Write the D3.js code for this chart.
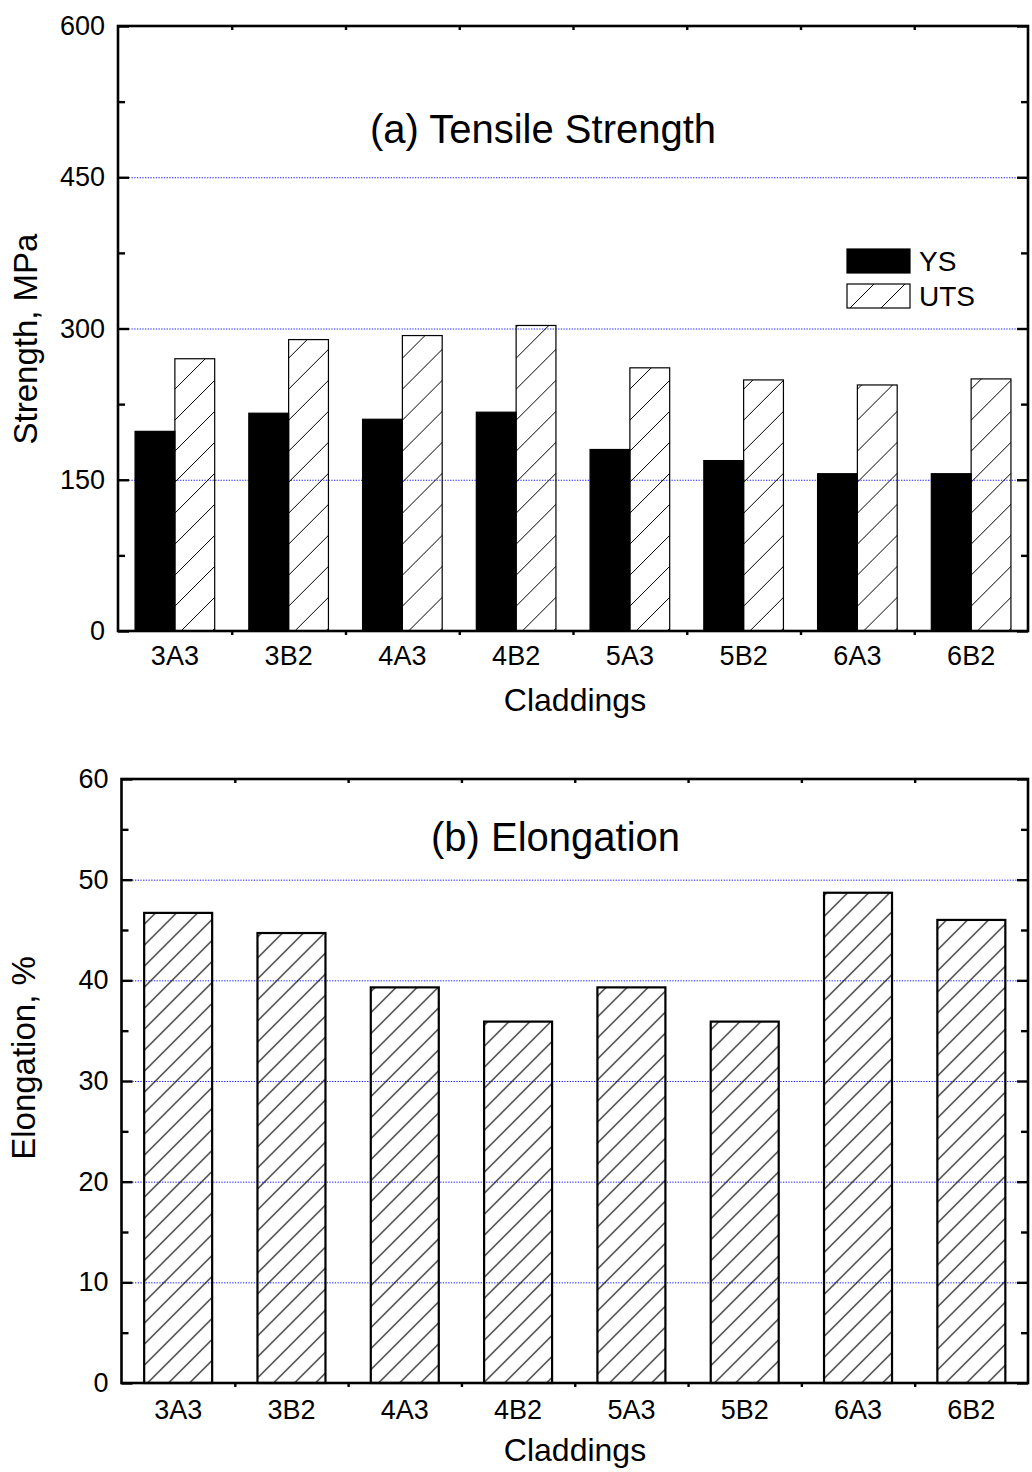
<!DOCTYPE html>
<html>
<head>
<meta charset="utf-8">
<script src="https://cdn.jsdelivr.net/npm/d3@7"></script>
<style>
  body { margin: 0; background: #fff; }
  svg { display: block; }
  text { font-family: Arial, "Liberation Sans", Helvetica, sans-serif; fill: #000; }
</style>
</head>
<body>
<div id="chart"></div>
<script>
// data
var claddings = ["3A3", "3B2", "4A3", "4B2", "5A3", "5B2", "6A3", "6B2"];
var seriesNames = ["YS", "UTS"];
var ysValues = [198, 216, 210, 217, 180, 169, 156, 156];
var utsValues = [270, 289, 293, 303, 261, 249, 244, 250];
var elongValues = [46.7, 44.7, 39.3, 35.9, 39.3, 35.9, 48.7, 46.0];
var strengthTicks = [0, 150, 300, 450, 600];
var strengthMinor = [75, 225, 375, 525];
var strengthGrid = [150, 300, 450];
var elongTicks = [0, 10, 20, 30, 40, 50, 60];
var elongMinor = [5, 15, 25, 35, 45, 55];
var elongGrid = [10, 20, 30, 40, 50];

var W = 1032, H = 1472;
var svg = d3.select("#chart").append("svg")
  .attr("width", W)
  .attr("height", H);

var defs = svg.append("defs");

// hatch patterns ("/" lines), a coarse one for panel a, finer for b
function hatch(id, step, width) {
  var p = defs.append("pattern")
    .attr("id", id)
    .attr("patternUnits", "userSpaceOnUse")
    .attr("width", step)
    .attr("height", step);
  p.append("path")
    .attr("d", "M0," + step + " L" + step + ",0 M" + (-step / 2) + "," + (step / 2) + " L" + (step / 2) + "," + (-step / 2) + " M" + (step / 2) + "," + (step * 1.5) + " L" + (step * 1.5) + "," + (step / 2))
    .attr("stroke", "#000")
    .attr("stroke-width", width);
}
hatch("hatchA", 31, 1);
hatch("hatchB", 21, 1.1);

function panel(opt) {
  var g = svg.append("g").attr("transform", "translate(" + opt.left + "," + opt.top + ")");
  var w = opt.width, h = opt.height;

  var y = d3.scaleLinear().domain(opt.yDomain).range([h, 0]);
  var x = d3.scaleBand().domain(claddings).range([0, w])
    .paddingInner(opt.padInner).paddingOuter(opt.padInner / 2);

  //dotted grid, behind everything
  g.append("g").selectAll("line")
    .data(opt.grid)
    .enter().append("line")
    .attr("x1", 0).attr("x2", w)
    .attr("y1", function(d) { return y(d) + 0.5; })
    .attr("y2", function(d) { return y(d) + 0.5; })
    .attr("stroke", "#1a1aff")
    .attr("stroke-width", 1)
    .attr("stroke-dasharray", "1.3,1.4");

  opt.drawBars(g, x, y);

  // axes (ticks point inward)
  var left = g.append("g")
    .call(d3.axisLeft(y).tickValues(opt.ticks).tickSize(-11).tickSizeOuter(0).tickPadding(13));
  left.append("g")
    .call(d3.axisLeft(y).tickValues(opt.minor).tickSize(-7).tickSizeOuter(0).tickFormat(""));
  var right = g.append("g").attr("transform", "translate(" + w + ",0)")
    .call(d3.axisRight(y).tickValues(opt.ticks).tickSize(-11).tickSizeOuter(0).tickFormat(""));
  right.append("g")
    .call(d3.axisRight(y).tickValues(opt.minor).tickSize(-7).tickSizeOuter(0).tickFormat(""));

  var bottom = g.append("g").attr("transform", "translate(0," + h + ")")
    .call(d3.axisBottom(x).tickSize(0).tickPadding(opt.xPad));

  // small ticks between categories
  var xb = d3.scaleLinear().domain([0, claddings.length]).range([0, w]);
  g.append("g").attr("transform", "translate(0," + h + ")")
    .call(d3.axisBottom(xb).tickValues(d3.range(1, claddings.length)).tickSize(4).tickFormat(""));
  g.append("g")
    .call(d3.axisTop(xb).tickValues(d3.range(1, claddings.length)).tickSize(-4).tickFormat(""));

  g.selectAll(".domain").remove();
  g.selectAll(".tick line").attr("stroke", "#000").attr("stroke-width", 2.4);
  g.selectAll(".tick text").style("font-size", "27px").style("font-family", "Arial, 'Liberation Sans', sans-serif");

  g.append("rect")
    .attr("x", 0).attr("y", 0)
    .attr("width", w).attr("height", h)
    .attr("fill", "none")
    .attr("stroke", "#000")
    .attr("stroke-width", 2.6);

  // labels
  g.append("text")
    .attr("x", opt.titleX).attr("y", opt.titleY)
    .attr("text-anchor", "middle")
    .style("font-size", "40px")
    .text(opt.title);

  svg.append("text")
    .attr("transform", "translate(" + opt.yLabelX + "," + opt.yLabelY + ") rotate(-90)")
    .attr("text-anchor", "middle")
    .style("font-size", "33px")
    .text(opt.yLabel);

  svg.append("text")
    .attr("x", 575).attr("y", opt.xLabelY)
    .attr("text-anchor", "middle")
    .style("font-size", "32px")
    .text("Claddings");

  return g;
}

// (a) Tensile strength
var gA = panel({
  left: 118, top: 26, width: 910, height: 605,
  yDomain: [0, 600], ticks: strengthTicks, minor: strengthMinor, grid: strengthGrid,
  padInner: 0.3, xPad: 15,
  title: "(a) Tensile Strength", titleX: 425, titleY: 117,
  yLabel: "Strength, MPa", yLabelX: 37, yLabelY: 339,
  xLabelY: 711,
  drawBars: function(g, x, y) {
    var xs = d3.scaleBand().domain(seriesNames).range([0, x.bandwidth()]);
    var rows = claddings.map(function(c, i) { return {cat: c, vals: [ysValues[i], utsValues[i]]}; });
    g.append("g").selectAll("g")
      .data(rows)
      .enter().append("g")
      .attr("transform", function(d) { return "translate(" + x(d.cat) + ",0)"; })
      .selectAll("rect")
      .data(function(d) { return d.vals.map(function(v, j) { return {name: seriesNames[j], v: v}; }); })
      .enter().append("rect")
      .attr("x", function(d) { return xs(d.name); })
      .attr("y", function(d) { return y(d.v); })
      .attr("width", xs.bandwidth())
      .attr("height", function(d) { return y(0) - y(d.v); })
      .attr("fill", function(d) { return d.name == "YS" ? "#000" : "url(#hatchA)"; })
      .attr("stroke", "#000")
      .attr("stroke-width", 1.2);
  }
});

// legend
var leg = gA.append("g").attr("transform", "translate(729,223)");
seriesNames.forEach(function(s, i) {
  leg.append("rect")
    .attr("x", 0).attr("y", i * 35)
    .attr("width", 63).attr("height", 24)
    .attr("fill", s == "YS" ? "#000" : "url(#hatchA)")
    .attr("stroke", "#000").attr("stroke-width", 1.2);
  leg.append("text")
    .attr("x", 72).attr("y", i * 35 + 22)
    .style("font-size", "28px")
    .text(s);
});

// (b) Elongation
panel({
  left: 121.5, top: 779, width: 906.5, height: 604,
  yDomain: [0, 60], ticks: elongTicks, minor: elongMinor, grid: elongGrid,
  padInner: 0.4, xPad: 17,
  title: "(b) Elongation", titleX: 434, titleY: 72,
  yLabel: "Elongation, %", yLabelX: 35, yLabelY: 1058,
  xLabelY: 1461,
  drawBars: function(g, x, y) {
    g.append("g").selectAll("rect")
      .data(elongValues)
      .enter().append("rect")
      .attr("x", function(d, i) { return x(claddings[i]); })
      .attr("y", function(d) { return y(d); })
      .attr("width", x.bandwidth())
      .attr("height", function(d) { return y(0) - y(d); })
      .attr("fill", "url(#hatchB)")
      .attr("stroke", "#000")
      .attr("stroke-width", 2.2);
  }
});
</script>
</body>
</html>
